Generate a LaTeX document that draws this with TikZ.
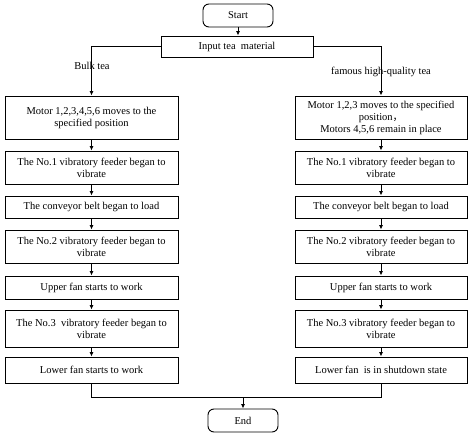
\documentclass[tikz,border=0pt]{standalone}
\usepackage{fontspec}
\setmainfont{Liberation Serif}
\newfontfamily\cjk{Noto Sans CJK SC}
\usetikzlibrary{arrows.meta,positioning}
\begin{document}
\begin{tikzpicture}[x=1pt,y=-1pt,
  box/.style={draw,line width=0.9pt,minimum width=#1,align=center,inner sep=1pt,font=\fontsize{10.5}{12}\selectfont},
  box/.default=173pt,
  term/.style={draw,line width=0.9pt,rounded corners=6pt,minimum width=70pt,minimum height=23pt,font=\fontsize{10.5}{12}\selectfont},
  arr/.style={line width=0.9pt,-{Latex[length=4.5pt,width=4pt]}},
  lbl/.style={font=\fontsize{10.5}{12}\selectfont}]
\useasboundingbox (0,0) rectangle (474,436);
\node[term] (start) at (238,15.5) {Start};
\node[box=152pt,minimum height=21pt] (input) at (237,46.5) {Input tea\ \ material};
% left column
\node[box,minimum height=43pt] (l1) at (91.5,117.5) {Motor 1,2,3,4,5,6 moves to the\\specified position};
\node[box,minimum height=33pt] (l2) at (91.5,167.5) {The No.1 vibratory feeder began to\\vibrate};
\node[box,minimum height=22pt] (l3) at (91.5,207) {The conveyor belt began to load};
\node[box,minimum height=33pt] (l4) at (91.5,246.5) {The No.2 vibratory feeder began to\\vibrate};
\node[box,minimum height=23pt] (l5) at (91.5,287.5) {Upper fan starts to work};
\node[box,minimum height=37pt] (l6) at (91.5,328.5) {The No.3\ \ vibratory feeder began to\\vibrate};
\node[box,minimum height=26pt] (l7) at (91.5,370) {Lower fan starts to work};
% right column
\node[box=172pt,minimum height=43pt] (r1) at (381,117.5) {Motor 1,2,3 moves to the specified\\position{\cjk ，}\\Motors 4,5,6 remain in place};
\node[box=172pt,minimum height=33pt] (r2) at (381,167.5) {The No.1 vibratory feeder began to\\vibrate};
\node[box=172pt,minimum height=22pt] (r3) at (381,207) {The conveyor belt began to load};
\node[box=172pt,minimum height=33pt] (r4) at (381,246.5) {The No.2 vibratory feeder began to\\vibrate};
\node[box=172pt,minimum height=23pt] (r5) at (381,287.5) {Upper fan starts to work};
\node[box=172pt,minimum height=37pt] (r6) at (381,328.5) {The No.3 vibratory feeder began to\\vibrate};
\node[box=172pt,minimum height=26pt] (r7) at (381,370) {Lower fan\ \ is in shutdown state};
\node[term] (end) at (243,420.5) {End};
% connectors
\draw[arr] (start) -- (start.south |- input.north);
\draw[arr] (input.west) -| (l1.north);
\draw[arr] (input.east) -| (r1.north);
\node[lbl] (bulk) at (92,66) {Bulk tea};
\node[lbl] (famous) at (381,72) {famous high-quality tea};
\foreach \a/\b in {l1/l2,l2/l3,l3/l4,l4/l5,l5/l6,l6/l7,r1/r2,r2/r3,r3/r4,r4/r5,r5/r6,r6/r7}
  \draw[arr] (\a) -- (\b);
\coordinate (jl) at (91.5,397);
\coordinate (jr) at (381,397);
\coordinate (je) at (243,397);
\draw[line width=0.9pt] (l7.south) -- (jl) -- (jr) -- (r7.south);
\draw[arr] (je) -- (end.north);
\end{tikzpicture}
\end{document}
